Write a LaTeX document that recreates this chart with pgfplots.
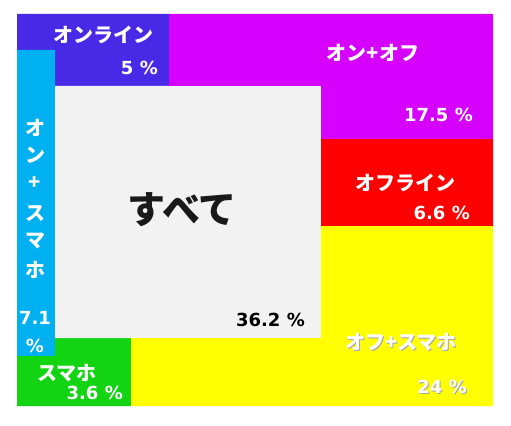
\documentclass[border=0pt]{standalone}
\usepackage{pgfplots}
\pgfplotsset{compat=1.18}
\usepackage{fontspec}
\setmainfont{Noto Sans CJK JP}
\newfontfamily\lat{DejaVu Sans}

\definecolor{cOn}{RGB}{72,42,230}
\definecolor{cOnOff}{RGB}{214,0,255}
\definecolor{cOnSp}{RGB}{0,176,240}
\definecolor{cSp}{RGB}{18,212,18}
\definecolor{cAll}{RGB}{242,242,242}
\definecolor{cOff}{RGB}{255,0,0}
\definecolor{cOffSp}{RGB}{255,255,0}

\begin{document}
\begin{tikzpicture}
\begin{axis}[
    width=511bp, height=426bp,
    scale only axis,
    xmin=0, xmax=511,
    ymin=0, ymax=426,
    y dir=reverse,
    hide axis,
    clip=false,
]
% keep the whole canvas
\path (0,0) rectangle (511,426);

% regions, in pixel coordinates of the picture
\addplot[draw=none, fill=cOn] coordinates {
    (17,14)(169,14)(169,86)(55,86)(55,50)(17,50)(17,14) };
\addplot[draw=none, fill=cOnSp] coordinates {
    (17,50)(55,50)(55,356)(17,356)(17,50) };
\addplot[draw=none, fill=cSp] coordinates {
    (55,338)(131,338)(131,406)(17,406)(17,356)(55,356)(55,338) };
\addplot[draw=none, fill=cAll] coordinates {
    (55,86)(321,86)(321,338)(55,338)(55,86) };
\addplot[draw=none, fill=cOnOff] coordinates {
    (169,14)(493,14)(493,139)(321,139)(321,86)(169,86)(169,14) };
\addplot[draw=none, fill=cOff] coordinates {
    (321,139)(493,139)(493,226)(321,226)(321,139) };
\addplot[draw=none, fill=cOffSp] coordinates {
    (321,226)(493,226)(493,406)(131,406)(131,338)(321,338)(321,226) };

\tikzset{lab/.style={inner sep=0pt, font=\fontsize{20bp}{22bp}\selectfont\bfseries, text=white},
         num/.style={inner sep=0pt, font=\fontsize{18bp}{20bp}\selectfont\lat\bfseries, text=white}}

\node[lab] at (103,35) {オンライン};
\node[num, anchor=east] at (158,68) {5 \%};

\node[lab] at (373,53) {オン+オフ};
\node[num, anchor=east] at (473,115) {17.5 \%};

\node[lab] at (405,183) {オフライン};
\node[num, anchor=east] at (470,213) {6.6 \%};

\node[inner sep=0pt, font=\fontsize{38bp}{40bp}\selectfont\bfseries, text=black!90] at (182,210) {すべて};
\node[num, text=black, anchor=east] at (305,320) {36.2 \%};

\node[lab, text=black!35] at (402,343) {オフ+スマホ};
\node[lab] at (401,342) {オフ+スマホ};
\node[num, text=black!35, anchor=east] at (468,388) {24 \%};
\node[num, anchor=east] at (467,387) {24 \%};

\node[lab] at (67,373) {スマホ};
\node[num, anchor=east] at (123,393) {3.6 \%};

\node[lab] at (35,128) {オ};
\node[lab] at (35,155) {ン};
\node[lab] at (35,183) {+};
\node[lab] at (35,213) {ス};
\node[lab] at (35,241) {マ};
\node[lab] at (35,270) {ホ};
\node[num] at (35,318) {7.1};
\node[num] at (35,346) {\%};
\end{axis}
\end{tikzpicture}
\end{document}
